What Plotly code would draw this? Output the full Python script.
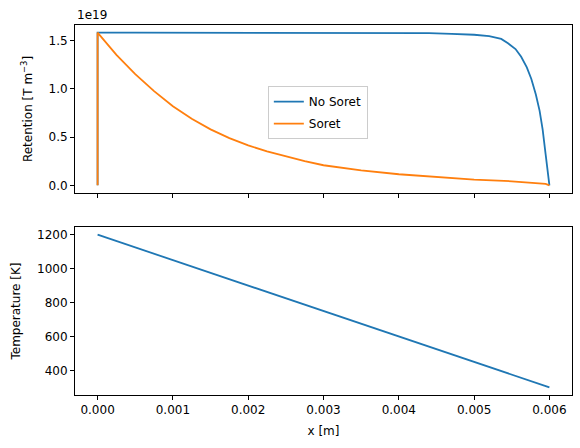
import plotly.graph_objects as go
from plotly.subplots import make_subplots

# x positions in metres
x_nosoret = [0.0, 0.0, 0.0005, 0.001, 0.002, 0.003, 0.004, 0.0044, 0.0047, 0.005, 0.0052,
             0.00536, 0.00545, 0.00555, 0.005625, 0.0057, 0.00576, 0.00582, 0.00587,
             0.00591, 0.00595, 0.00598, 0.006]
ret_nosoret = [0.0, 1.58, 1.58, 1.58, 1.58, 1.58, 1.579, 1.575, 1.568, 1.558, 1.543,
               1.515, 1.47, 1.41, 1.33, 1.22, 1.10, 0.94, 0.77,
               0.58, 0.32, 0.13, 0.0]  # units of 1e19 T m^-3

x_soret = [0.0, 0.0, 0.00025, 0.0005, 0.00075, 0.001, 0.00125, 0.0015, 0.00175, 0.002,
           0.00225, 0.0025, 0.00275, 0.003, 0.0035, 0.004, 0.0045, 0.005, 0.0055,
           0.0058, 0.00595, 0.006]
ret_soret = [0.0, 1.58, 1.35, 1.15, 0.975, 0.818, 0.688, 0.579, 0.488, 0.413,
             0.352, 0.297, 0.25, 0.208, 0.155, 0.115, 0.084, 0.06, 0.042,
             0.028, 0.015, 0.0]

x_temp = [0.0, 0.006]
temperature = [1200, 300]

yticks_top = [0.0, 0.5, 1.0, 1.5]
yticks_bot = [400, 600, 800, 1000, 1200]
xticks = [0.0, 0.001, 0.002, 0.003, 0.004, 0.005, 0.006]

BLUE = "#1f77b4"
ORANGE = "#ff7f0e"
FONT = "DejaVu Sans"

fig = make_subplots(rows=2, cols=1, shared_xaxes=True, vertical_spacing=0.092)

fig.add_trace(go.Scatter(x=x_nosoret, y=ret_nosoret, mode="lines", name="No Soret",
                         legendgroup="a",
                         line=dict(color=BLUE, width=1.8)), row=1, col=1)
fig.add_trace(go.Scatter(x=x_soret, y=ret_soret, mode="lines", name="Soret",
                         legendgroup="b",
                         line=dict(color=ORANGE, width=1.8)), row=1, col=1)
fig.add_trace(go.Scatter(x=x_temp, y=temperature, mode="lines", showlegend=False,
                         line=dict(color=BLUE, width=1.8)), row=2, col=1)

axis_common = dict(showline=True, linecolor="black", linewidth=1, mirror=True,
                   ticks="outside", ticklen=4, tickwidth=1, tickcolor="black",
                   showgrid=False, zeroline=False,
                   tickfont=dict(family=FONT, size=12, color="black"))

fig.update_xaxes(**axis_common, range=[-0.0003, 0.0063], tickvals=xticks)
fig.update_xaxes(showticklabels=False, row=1, col=1)
fig.update_xaxes(tickformat=".3f", row=2, col=1,
                 title=dict(text="x [m]", font=dict(family=FONT, size=12, color="black"), standoff=10))

fig.update_yaxes(**axis_common)
fig.update_yaxes(range=[-0.079, 1.659], tickvals=yticks_top, tickformat=".1f", row=1, col=1,
                 title=dict(text="Retention [T m<sup>−3</sup>]",
                            font=dict(family=FONT, size=12, color="black"), standoff=13))
fig.update_yaxes(range=[255, 1245], tickvals=yticks_bot, row=2, col=1,
                 title=dict(text="Temperature [K]",
                            font=dict(family=FONT, size=12, color="black"), standoff=13))

fig.update_layout(
    width=580, height=448,
    margin=dict(l=75, r=8, t=25, b=53, autoexpand=False),
    plot_bgcolor="white", paper_bgcolor="white",
    font=dict(family=FONT, size=12, color="black"),
    legend=dict(x=0.388, y=0.835, xanchor="left", yanchor="top",
                bgcolor="rgba(255,255,255,0.8)", bordercolor="#cccccc", borderwidth=1,
                font=dict(family=FONT, size=12, color="black"),
                itemwidth=30, tracegroupgap=3),
    annotations=[dict(text="1e19", xref="paper", yref="paper", x=0, y=1.0,
                      xanchor="left", yanchor="bottom", showarrow=False,
                      font=dict(family=FONT, size=12, color="black"), yshift=1)],
)

fig.write_html("out.html")
